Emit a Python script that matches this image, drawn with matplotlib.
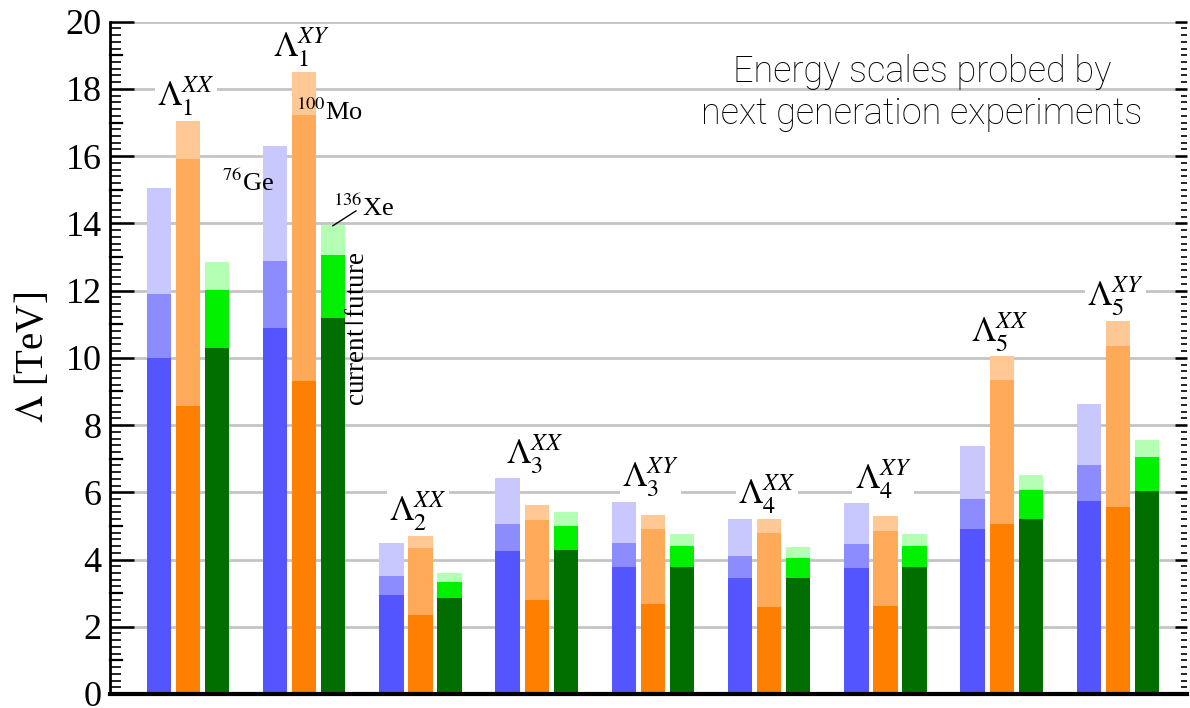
import matplotlib
matplotlib.use("Agg")
import matplotlib.pyplot as plt
from matplotlib.ticker import MultipleLocator
import numpy as np

plt.rcParams['font.family'] = ['Liberation Serif', 'DejaVu Serif']
plt.rcParams['mathtext.fontset'] = 'stix'

# Operator labels (one group of bars per operator)
operators = [r'$\Lambda_1^{XX}$', r'$\Lambda_1^{XY}$', r'$\Lambda_2^{XX}$',
             r'$\Lambda_3^{XX}$', r'$\Lambda_3^{XY}$', r'$\Lambda_4^{XX}$',
             r'$\Lambda_4^{XY}$', r'$\Lambda_5^{XX}$', r'$\Lambda_5^{XY}$']

# Energy scales in TeV: current limit, and two future sensitivities
ge_current = [10.0, 10.89, 2.95, 4.24, 3.79, 3.45, 3.76, 4.90, 5.73]
ge_future1 = [11.9, 12.89, 3.51, 5.05, 4.50, 4.09, 4.46, 5.81, 6.80]
ge_future2 = [15.06, 16.31, 4.49, 6.42, 5.72, 5.21, 5.67, 7.38, 8.63]

mo_current = [8.57, 9.32, 2.35, 2.80, 2.68, 2.59, 2.62, 5.05, 5.57]
mo_future1 = [15.9, 17.23, 4.35, 5.18, 4.91, 4.78, 4.85, 9.33, 10.34]
mo_future2 = [17.05, 18.51, 4.70, 5.62, 5.33, 5.20, 5.28, 10.04, 11.11]

xe_current = [10.3, 11.19, 2.86, 4.29, 3.77, 3.45, 3.78, 5.20, 6.04]
xe_future1 = [12.02, 13.07, 3.33, 5.01, 4.41, 4.04, 4.41, 6.07, 7.05]
xe_future2 = [12.86, 13.96, 3.60, 5.40, 4.75, 4.37, 4.75, 6.51, 7.55]

isotopes = [
    (ge_current, ge_future1, ge_future2, ['#5555ff', '#8c8cff', '#c8c8ff']),
    (mo_current, mo_future1, mo_future2, ['#ff8000', '#ffaa58', '#ffc894']),
    (xe_current, xe_future1, xe_future2, ['#006f00', '#00f000', '#b4ffb4']),
]

fig = plt.figure(figsize=(11.9, 7.08), dpi=100)
ax = fig.add_axes([0.0924, 0.0198, 0.9051, 0.9496])

x = np.arange(len(operators))
offset = 0.25
width = 0.21

for k, (cur, f1, f2, cols) in enumerate(isotopes):
    xs = x + (k - 1) * offset
    ax.bar(xs, f2, width, color=cols[2], zorder=2)
    ax.bar(xs, f1, width, color=cols[1], zorder=2)
    ax.bar(xs, cur, width, color=cols[0], zorder=2)

ax.set_xlim(-0.671, 8.594)
ax.set_ylim(0, 20)

# Gridlines at even values
for g in range(2, 21, 2):
    ax.axhline(g, color='#c4c4c4', lw=2.0, zorder=1)

# Operator labels above each group
tops = [max(a, b, c) for a, b, c in zip(ge_future2, mo_future2, xe_future2)]
for i, (lab, top) in enumerate(zip(operators, tops)):
    ax.text(i - 0.02, top + 0.72, lab, ha='center', va='center', fontsize=25,
            zorder=4, bbox=dict(facecolor='white', edgecolor='none', pad=1.5))

# Isotope annotations
ax.text(0.52, 15.2, r'$^{76}$Ge', ha='center', va='center', fontsize=19, zorder=4)
ax.text(1.22, 17.32, r'$^{100}$Mo', ha='center', va='center', fontsize=19, zorder=4)
ax.text(1.51, 14.46, r'$^{136}$Xe', ha='center', va='center', fontsize=19, zorder=4)
ax.plot([1.247, 1.445], [13.93, 14.37], color='black', lw=1.0, zorder=4)
ax.text(1.46, 10.85, r'current$\,|\,$future', rotation=90, ha='center',
        va='center', fontsize=19.5, zorder=4)

# Annotation in the upper right
ax.text(6.314, 17.87, 'Energy scales probed by\nnext generation experiments',
        ha='center', va='center', fontsize=26, family='Roboto',
        fontweight='light', color='black', linespacing=1.22, zorder=4)

# Axes styling
ax.set_ylabel(r'$\Lambda$ [TeV]', fontsize=28, labelpad=10)
ax.set_xticks([])
ax.yaxis.set_major_locator(MultipleLocator(2))
ax.yaxis.set_minor_locator(MultipleLocator(0.2))
ax.tick_params(axis='y', which='major', direction='in', length=17, width=1.8,
               labelsize=26, pad=6)
ax.tick_params(axis='y', which='minor', direction='in', length=8, width=1.2)
for s in ['top', 'right']:
    ax.spines[s].set_visible(False)
ax.spines['left'].set_linewidth(2.0)
ax.spines['bottom'].set_linewidth(3.0)

# Medium ticks at odd integers
for v in range(1, 20, 2):
    ax.plot([-0.671, -0.671 + 0.105], [v, v], color='black', lw=1.6,
            clip_on=False, zorder=5)

# Short ticks along the right edge
ax2 = ax.twinx()
ax2.set_ylim(0, 20)
ax2.yaxis.set_major_locator(MultipleLocator(2))
ax2.yaxis.set_minor_locator(MultipleLocator(0.2))
ax2.tick_params(axis='y', which='major', direction='in', length=9, width=1.8,
                labelright=False)
ax2.tick_params(axis='y', which='minor', direction='in', length=4, width=1.2)
for s in ax2.spines.values():
    s.set_visible(False)

fig.savefig('out.png', dpi=100)
